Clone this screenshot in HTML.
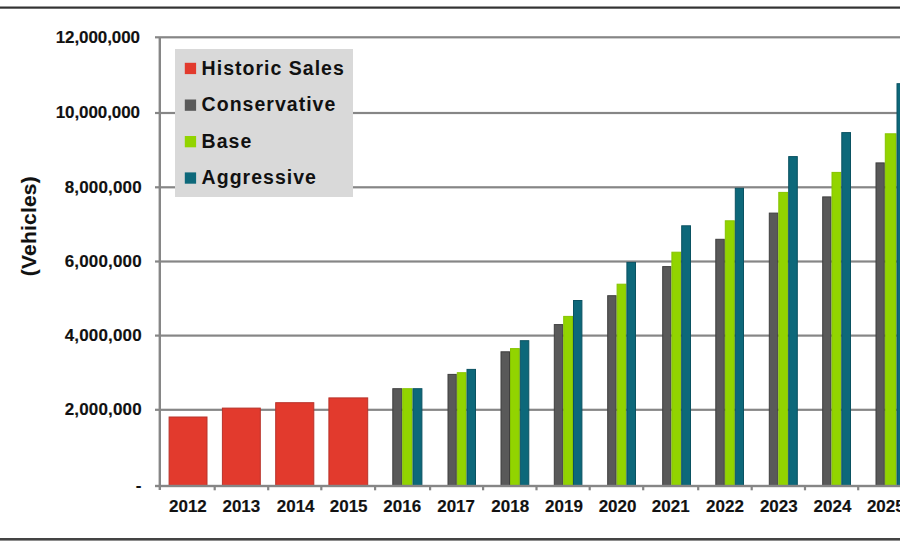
<!DOCTYPE html><html><head><meta charset="utf-8"><style>html,body{margin:0;padding:0;background:#fff;width:900px;height:542px;overflow:hidden}svg{display:block}text{font-family:"Liberation Sans",sans-serif;font-weight:bold;fill:#111;stroke:#111;stroke-width:0.15px}</style></head><body>
<svg width="900" height="542" viewBox="0 0 900 542">
<rect x="0" y="0" width="900" height="542" fill="#fff"/>
<rect x="0" y="6.5" width="900" height="2.2" fill="#333"/>
<rect x="0" y="538" width="900" height="2.6" fill="#444"/>
<rect x="155" y="36.20" width="745" height="2.2" fill="#868686"/>
<rect x="155" y="111.90" width="745" height="2.2" fill="#868686"/>
<rect x="155" y="186.20" width="745" height="2.2" fill="#868686"/>
<rect x="155" y="260.40" width="745" height="2.2" fill="#868686"/>
<rect x="155" y="334.50" width="745" height="2.2" fill="#868686"/>
<rect x="155" y="408.70" width="745" height="2.2" fill="#868686"/>
<rect x="169.10" y="417.00" width="37.90" height="69.00" fill="#e23a2d" stroke="#b8322a" stroke-width="1"/>
<rect x="222.40" y="408.10" width="37.90" height="77.90" fill="#e23a2d" stroke="#b8322a" stroke-width="1"/>
<rect x="275.70" y="402.70" width="38.10" height="83.30" fill="#e23a2d" stroke="#b8322a" stroke-width="1"/>
<rect x="328.90" y="397.90" width="38.80" height="88.10" fill="#e23a2d" stroke="#b8322a" stroke-width="1"/>
<rect x="392.80" y="388.70" width="8.90" height="97.30" fill="#595959" stroke="#3f3f3f" stroke-width="1"/>
<rect x="402.70" y="388.70" width="9.30" height="97.30" fill="#92d400" stroke="#86c400" stroke-width="1"/>
<rect x="413.00" y="388.70" width="8.90" height="97.30" fill="#0d687a" stroke="#0a5262" stroke-width="1"/>
<rect x="448.00" y="374.40" width="8.30" height="111.60" fill="#595959" stroke="#3f3f3f" stroke-width="1"/>
<rect x="457.30" y="372.70" width="8.70" height="113.30" fill="#92d400" stroke="#86c400" stroke-width="1"/>
<rect x="467.00" y="369.40" width="8.50" height="116.60" fill="#0d687a" stroke="#0a5262" stroke-width="1"/>
<rect x="501.00" y="351.80" width="8.50" height="134.20" fill="#595959" stroke="#3f3f3f" stroke-width="1"/>
<rect x="510.50" y="348.60" width="8.80" height="137.40" fill="#92d400" stroke="#86c400" stroke-width="1"/>
<rect x="520.30" y="340.70" width="8.50" height="145.30" fill="#0d687a" stroke="#0a5262" stroke-width="1"/>
<rect x="554.30" y="324.60" width="8.40" height="161.40" fill="#595959" stroke="#3f3f3f" stroke-width="1"/>
<rect x="563.70" y="316.40" width="8.80" height="169.60" fill="#92d400" stroke="#86c400" stroke-width="1"/>
<rect x="573.50" y="300.50" width="8.40" height="185.50" fill="#0d687a" stroke="#0a5262" stroke-width="1"/>
<rect x="607.70" y="295.70" width="8.40" height="190.30" fill="#595959" stroke="#3f3f3f" stroke-width="1"/>
<rect x="617.10" y="284.20" width="8.80" height="201.80" fill="#92d400" stroke="#86c400" stroke-width="1"/>
<rect x="626.90" y="262.40" width="8.60" height="223.60" fill="#0d687a" stroke="#0a5262" stroke-width="1"/>
<rect x="662.70" y="266.60" width="8.20" height="219.40" fill="#595959" stroke="#3f3f3f" stroke-width="1"/>
<rect x="671.90" y="252.20" width="8.80" height="233.80" fill="#92d400" stroke="#86c400" stroke-width="1"/>
<rect x="681.70" y="225.80" width="8.80" height="260.20" fill="#0d687a" stroke="#0a5262" stroke-width="1"/>
<rect x="715.80" y="239.30" width="8.50" height="246.70" fill="#595959" stroke="#3f3f3f" stroke-width="1"/>
<rect x="725.30" y="220.80" width="9.00" height="265.20" fill="#92d400" stroke="#86c400" stroke-width="1"/>
<rect x="735.30" y="188.30" width="8.20" height="297.70" fill="#0d687a" stroke="#0a5262" stroke-width="1"/>
<rect x="769.30" y="213.10" width="8.50" height="272.90" fill="#595959" stroke="#3f3f3f" stroke-width="1"/>
<rect x="778.80" y="192.40" width="8.90" height="293.60" fill="#92d400" stroke="#86c400" stroke-width="1"/>
<rect x="788.70" y="156.60" width="8.60" height="329.40" fill="#0d687a" stroke="#0a5262" stroke-width="1"/>
<rect x="822.70" y="196.90" width="8.30" height="289.10" fill="#595959" stroke="#3f3f3f" stroke-width="1"/>
<rect x="832.00" y="172.40" width="8.80" height="313.60" fill="#92d400" stroke="#86c400" stroke-width="1"/>
<rect x="841.80" y="132.60" width="8.70" height="353.40" fill="#0d687a" stroke="#0a5262" stroke-width="1"/>
<rect x="876.00" y="162.90" width="8.30" height="323.10" fill="#595959" stroke="#3f3f3f" stroke-width="1"/>
<rect x="885.30" y="133.80" width="10.70" height="352.20" fill="#92d400" stroke="#86c400" stroke-width="1"/>
<rect x="897.00" y="83.70" width="8.50" height="402.30" fill="#0d687a" stroke="#0a5262" stroke-width="1"/>
<rect x="155" y="484.8" width="745" height="2.4" fill="#868686"/>
<rect x="158.6" y="37" width="2.4" height="453" fill="#868686"/>
<rect x="213.60" y="486" width="2.2" height="4.3" fill="#868686"/>
<rect x="267.10" y="486" width="2.2" height="4.3" fill="#868686"/>
<rect x="320.20" y="486" width="2.2" height="4.3" fill="#868686"/>
<rect x="374.00" y="486" width="2.2" height="4.3" fill="#868686"/>
<rect x="429.00" y="486" width="2.2" height="4.3" fill="#868686"/>
<rect x="482.00" y="486" width="2.2" height="4.3" fill="#868686"/>
<rect x="535.40" y="486" width="2.2" height="4.3" fill="#868686"/>
<rect x="588.60" y="486" width="2.2" height="4.3" fill="#868686"/>
<rect x="642.10" y="486" width="2.2" height="4.3" fill="#868686"/>
<rect x="697.10" y="486" width="2.2" height="4.3" fill="#868686"/>
<rect x="750.60" y="486" width="2.2" height="4.3" fill="#868686"/>
<rect x="803.90" y="486" width="2.2" height="4.3" fill="#868686"/>
<rect x="857.10" y="486" width="2.2" height="4.3" fill="#868686"/>
<text x="140.0" y="42.70" font-size="17" text-anchor="end" letter-spacing="-0.08">12,000,000</text>
<text x="140.0" y="118.40" font-size="17" text-anchor="end" letter-spacing="-0.08">10,000,000</text>
<text x="141.8" y="192.70" font-size="17" text-anchor="end" letter-spacing="0.17">8,000,000</text>
<text x="141.8" y="266.90" font-size="17" text-anchor="end" letter-spacing="0.17">6,000,000</text>
<text x="141.8" y="341.00" font-size="17" text-anchor="end" letter-spacing="0.17">4,000,000</text>
<text x="141.8" y="415.20" font-size="17" text-anchor="end" letter-spacing="0.17">2,000,000</text>
<text x="141.4" y="491.0" font-size="17" text-anchor="end">-</text>
<text x="187.90" y="511.6" font-size="17" text-anchor="middle" >2012</text>
<text x="241.35" y="511.6" font-size="17" text-anchor="middle" >2013</text>
<text x="295.65" y="511.6" font-size="17" text-anchor="middle" >2014</text>
<text x="348.65" y="511.6" font-size="17" text-anchor="middle" >2015</text>
<text x="402.20" y="511.6" font-size="17" text-anchor="middle" >2016</text>
<text x="456.10" y="511.6" font-size="17" text-anchor="middle" >2017</text>
<text x="510.20" y="511.6" font-size="17" text-anchor="middle" >2018</text>
<text x="564.00" y="511.6" font-size="17" text-anchor="middle" >2019</text>
<text x="617.55" y="511.6" font-size="17" text-anchor="middle" >2020</text>
<text x="670.70" y="511.6" font-size="17" text-anchor="middle" >2021</text>
<text x="725.00" y="511.6" font-size="17" text-anchor="middle" >2022</text>
<text x="778.80" y="511.6" font-size="17" text-anchor="middle" >2023</text>
<text x="832.50" y="511.6" font-size="17" text-anchor="middle" >2024</text>
<text x="885.80" y="511.6" font-size="17" text-anchor="middle" >2025</text>
<text transform="translate(35.8,226.1) rotate(-90)" font-size="21" text-anchor="middle" letter-spacing="0.2">(Vehicles)</text>
<rect x="175" y="49" width="178" height="148" fill="#d9d9d9"/>
<rect x="184.8" y="62.8" width="11.3" height="11.3" fill="#e23a2d"/>
<text x="201.6" y="74.80" font-size="19.5" letter-spacing="1.02" style="stroke-width:0">Historic Sales</text>
<rect x="184.8" y="99.5" width="11.3" height="11.3" fill="#595959"/>
<text x="201.6" y="111.10" font-size="19.5" letter-spacing="1.02" style="stroke-width:0">Conservative</text>
<rect x="184.8" y="136.0" width="11.3" height="11.3" fill="#92d400"/>
<text x="201.6" y="147.80" font-size="19.5" letter-spacing="1.02" style="stroke-width:0">Base</text>
<rect x="184.8" y="172.4" width="11.3" height="11.3" fill="#0d687a"/>
<text x="201.6" y="184.40" font-size="19.5" letter-spacing="1.02" style="stroke-width:0">Aggressive</text>
</svg></body></html>
